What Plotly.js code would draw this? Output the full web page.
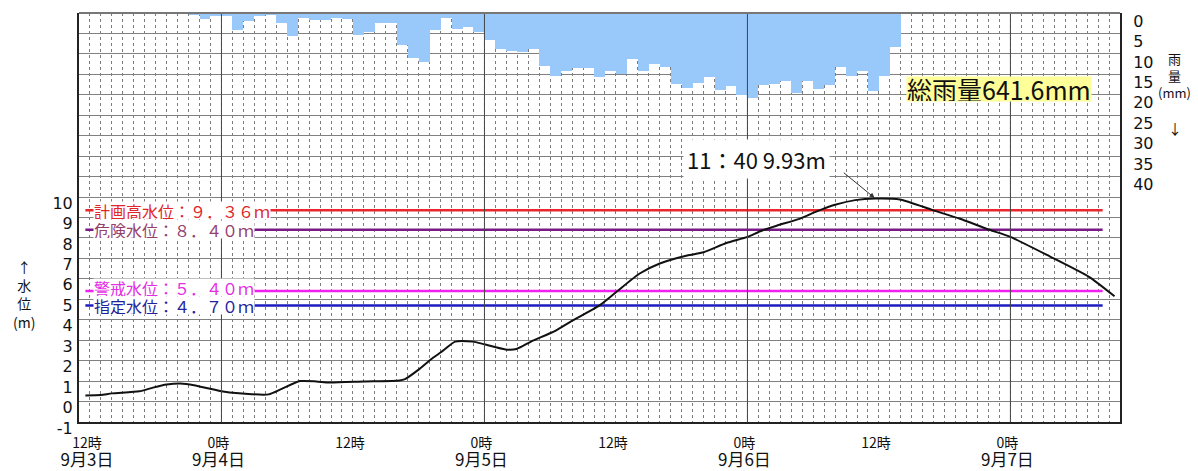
<!DOCTYPE html>
<html><head><meta charset="utf-8">
<script src="https://cdn.plot.ly/plotly-3.0.1.min.js"></script>
<style>
html,body{margin:0;padding:0;background:#fff;}
#chart{width:1198px;height:471px;}
</style>
</head><body><div id="chart"></div>
<script>
// ---- data ----
const levelTimes = [
 '2011-09-03 11:35','2011-09-03 13:00','2011-09-03 14:00','2011-09-03 16:30','2011-09-03 17:45',
 '2011-09-03 19:00','2011-09-03 20:15','2011-09-03 21:30','2011-09-03 22:45','2011-09-04 00:00',
 '2011-09-04 01:36','2011-09-04 04:18','2011-09-04 05:30','2011-09-04 07:10','2011-09-04 08:40',
 '2011-09-04 09:50','2011-09-04 13:00','2011-09-04 16:15','2011-09-04 16:45','2011-09-04 18:05',
 '2011-09-04 19:20','2011-09-04 20:15','2011-09-04 21:20','2011-09-04 22:55','2011-09-05 00:00',
 '2011-09-05 01:55','2011-09-05 02:55','2011-09-05 04:15','2011-09-05 06:30','2011-09-05 07:50',
 '2011-09-05 10:30','2011-09-05 12:05','2011-09-05 14:10','2011-09-05 16:00','2011-09-05 18:30',
 '2011-09-05 20:00','2011-09-05 22:05','2011-09-06 00:00','2011-09-06 01:10','2011-09-06 02:40',
 '2011-09-06 04:40','2011-09-06 06:20','2011-09-06 08:00','2011-09-06 09:50','2011-09-06 11:40',
 '2011-09-06 13:55','2011-09-06 16:55','2011-09-06 19:20','2011-09-06 22:05','2011-09-07 00:00',
 '2011-09-07 03:35','2011-09-07 07:10','2011-09-07 09:30'
];
const levelValues = [
 0.30,0.32,0.40,0.50,0.68,
 0.83,0.88,0.80,0.65,0.50,
 0.40,0.35,0.62,1.00,0.98,
 0.93,0.98,1.03,1.10,1.60,
 2.15,2.50,2.93,2.93,2.80,
 2.55,2.57,2.93,3.47,3.90,
 4.70,5.38,6.26,6.75,7.14,
 7.30,7.75,8.05,8.33,8.60,
 8.92,9.30,9.62,9.85,9.93,
 9.88,9.36,8.95,8.40,8.05,
 7.10,6.10,5.15
];
const rainStart = '2011-09-03 21:00';
const rainValues = [
 0.5,1.4,0.8,
 0.7,4.1,1.9,0.8,0.4,2.4,5.7,1.2,1.6,1.6,1.2,1.5,
 5.3,4.6,2.4,2.4,7.9,11.1,12.1,4.2,1.3,4.0,3.5,4.6,
 6.6,8.9,9.3,9.5,8.9,13.0,15.4,14.3,13.4,13.4,15.6,14.2,
 14.9,11.2,14.1,12.5,13.1,17.4,18.4,17.2,15.7,18.8,17.8,20.0,
 20.8,17.7,17.4,16.7,19.6,16.7,18.5,17.7,13.3,15.5,14.3,19.1,15.5,8.3
];
const totalRain = '641.6';
const thresholdNames = ['計画高水位','危険水位','警戒水位','指定水位'];
const thresholdValues = [9.36, 8.40, 5.40, 4.70];
const thresholdLineColors = ['#e8282c','#7a1a86','#f020f0','#1c1cc0'];
const thresholdTextColors = ['#e0262a','#94406e','#e42ee4','#22229c'];
const peakTime = '2011-09-06 11:40';
const peakValue = 9.93;
const peakLabel = '11：40 9.93m';
const xTickTimes = ['2011-09-03 12:00','2011-09-04 00:00','2011-09-04 12:00','2011-09-05 00:00',
                    '2011-09-05 12:00','2011-09-06 00:00','2011-09-06 12:00','2011-09-07 00:00'];
const xTickHours = ['12時','0時','12時','0時','12時','0時','12時','0時'];
const xTickDates = ['9月3日','9月4日','','9月5日','','9月6日','','9月7日'];
const dayLines = ['2011-09-04 00:00','2011-09-05 00:00','2011-09-06 00:00','2011-09-07 00:00'];
const levelTickVals = [-1,0,1,2,3,4,5,6,7,8,9,10,11,12,13,14,15,16,17,18,19];
const levelTickText = ['-1','0','1','2','3','4','5','6','7','8','9','10','','','','','','','','',''];
const rainTickVals = [0,5,10,15,20,25,30,35,40];
const xRange = ['2011-09-03 11:00','2011-09-07 10:00'];
const thresholdStart = '2011-09-03 11:35';
const thresholdEnd = '2011-09-07 08:25';
const thresholdLabelShift = [0, 0, 4, 0];

// ---- helpers ----
function addHours(s, h){
  const d = new Date(s.replace(' ','T')+':00Z');
  return new Date(d.getTime()+h*3600000).toISOString().slice(0,16).replace('T',' ');
}
function fw(s){
  return s.replace(/[0-9.m]/g, c => String.fromCharCode(c.charCodeAt(0)+0xFEE0));
}
const rainTimes = rainValues.map((v,i)=>addHours(rainStart,i));

const FONT = 'Noto Sans CJK JP, sans-serif';
const traces = [];
thresholdValues.forEach((v,i)=>{
  traces.push({x:[thresholdStart,thresholdEnd], y:[v,v], type:'scatter', mode:'lines',
    line:{color:thresholdLineColors[i], width:2.5}, hoverinfo:'skip', showlegend:false});
});
traces.push({x:levelTimes, y:levelValues, type:'scatter', mode:'lines',
  line:{color:'#111', width:2, shape:'spline', smoothing:0.6}, showlegend:false});
traces.push({x:rainTimes, y:rainValues, type:'bar', yaxis:'y2', width:3600000, offset:0,
  marker:{color:'#99c9fa', line:{width:0}}, showlegend:false});

const px2x = p => (p-79)/1041;
const px2y = p => (422-p)/409;

const annotations = [];
thresholdValues.forEach((v,i)=>{
  annotations.push({xref:'paper', yref:'y', x:px2x(93), y:v, yshift:thresholdLabelShift[i],
    xanchor:'left', yanchor:'middle', height:17,
    text: thresholdNames[i]+'：'+fw(v.toFixed(2)+'m'),
    showarrow:false, bgcolor:'#ffffff', borderpad:0,
    font:{family:FONT, size:16, color:thresholdTextColors[i]}});
});
annotations.push({xref:'x', yref:'y', x:peakTime, y:peakValue, text:'', showarrow:true,
  ax:-33, ay:-27, arrowhead:2, arrowsize:1, arrowwidth:1, arrowcolor:'#333', standoff:1});
annotations.push({xref:'x', yref:'y', x:peakTime, y:peakValue, xshift:-119, yshift:39,
  text:peakLabel, showarrow:false, bgcolor:'#ffffff', borderpad:3,
  font:{family:FONT, size:22, color:'#111'}});
annotations.push({xref:'paper', yref:'paper', x:px2x(999), y:px2y(88.5), xanchor:'center', yanchor:'middle',
  text:'総雨量'+totalRain+'mm', showarrow:false, bgcolor:'#ffff99', borderpad:0, height:24,
  font:{family:FONT, size:25, color:'#111'}});
annotations.push({xref:'paper', yref:'paper', x:px2x(24), y:px2y(294), xanchor:'center', yanchor:'middle',
  text:'↑<br>水<br>位<br>(m)', showarrow:false, font:{family:FONT, size:14, color:'#111'}});
annotations.push({xref:'paper', yref:'paper', x:px2x(1174), y:px2y(75), xanchor:'center', yanchor:'middle',
  text:'雨<br>量<br>(mm)', showarrow:false, font:{family:FONT, size:13, color:'#111'}});
annotations.push({xref:'paper', yref:'paper', x:px2x(1175), y:px2y(128), xanchor:'center', yanchor:'middle',
  text:'↓', showarrow:false, font:{family:FONT, size:14, color:'#111'}});

const shapes = dayLines.map(d=>({type:'line', xref:'x', yref:'paper', x0:d, x1:d, y0:0, y1:1,
  line:{color:'#444', width:1}, layer:'above'}));
shapes.push({type:'line', xref:'paper', yref:'paper', x0:0, x1:1, y0:1, y1:1, line:{color:'#777', width:2}, layer:'above'});

const layout = {
  width:1198, height:471,
  margin:{l:79, r:78, t:13, b:49},
  paper_bgcolor:'#fff', plot_bgcolor:'#fff',
  showlegend:false, bargap:0,
  font:{family:FONT, color:'#111'},
  xaxis:{type:'date', range:xRange, tickmode:'array', tickvals:xTickTimes,
    ticktext:xTickTimes.map((t,i)=> xTickHours[i] + (xTickDates[i] ? '<br><span style="font-size:17px">'+xTickDates[i]+'</span>' : '')),
    showgrid:false, ticks:'', ticklabelstandoff:7, ticklabelshift:-3,
    tickfont:{family:FONT, size:14, color:'#111'},
    showline:true, linecolor:'#222', linewidth:2,
    minor:{tickmode:'linear', tick0:'2011-09-03 11:00', dtick:3600000, showgrid:true,
      gridcolor:'#7c7c7c', griddash:'dot', gridwidth:1, ticks:''},
    zeroline:false, fixedrange:true},
  yaxis:{range:[-1,19], tickmode:'array', tickvals:levelTickVals, ticktext:levelTickText,
    showgrid:true, gridcolor:'#808080', gridwidth:1, zeroline:false, ticks:'',
    ticklabelstandoff:1, ticklabelshift:6,
    tickfont:{family:'DejaVu Sans, sans-serif', size:16, color:'#111'},
    showline:true, linecolor:'#222', linewidth:2},
  yaxis2:{overlaying:'y', side:'right', range:[100,0], tickmode:'array', tickvals:rainTickVals,
    showgrid:false, zeroline:false, ticks:'', ticklabelstandoff:8, ticklabelshift:-8,
    tickfont:{family:'DejaVu Sans, sans-serif', size:16, color:'#111'},
    showline:true, linecolor:'#222', linewidth:2},
  annotations:annotations,
  shapes:shapes
};
Plotly.newPlot('chart', traces, layout, {staticPlot:true, displayModeBar:false});
</script>
</body></html>
